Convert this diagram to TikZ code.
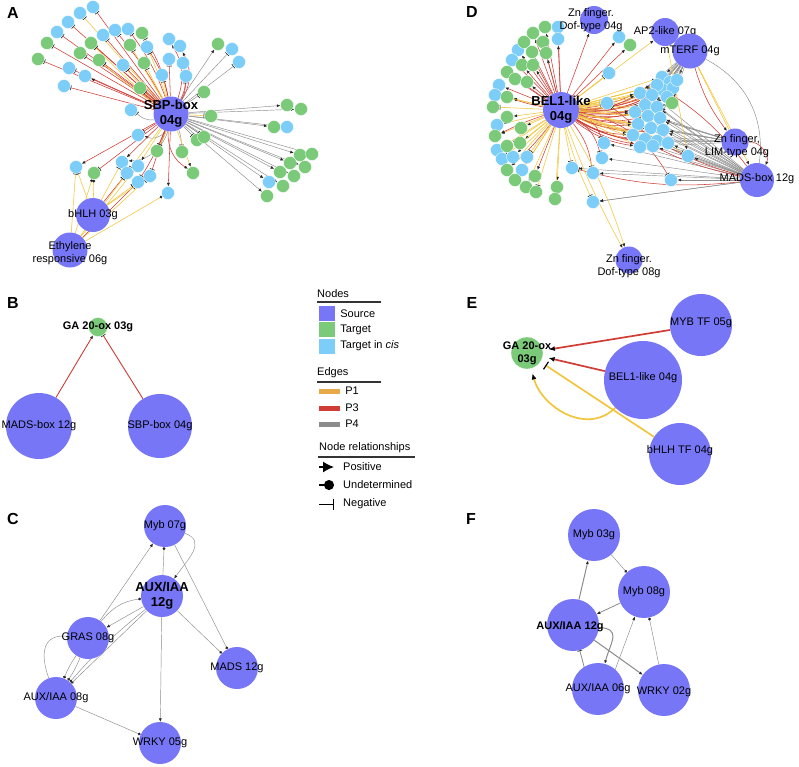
\documentclass[tikz,border=0pt]{standalone}
\usepackage{fontspec}
\setmainfont{Liberation Sans}
\usepackage{xcolor}
\usepackage{tikz}
\usetikzlibrary{arrows.meta,positioning}
\definecolor{srcblue}{RGB}{118,118,246}
\definecolor{tgtgreen}{RGB}{122,202,122}
\definecolor{cisblue}{RGB}{124,206,248}
\definecolor{pone}{RGB}{242,198,60}
\definecolor{ponekey}{RGB}{232,170,72}
\definecolor{pthree}{RGB}{208,60,54}
\definecolor{pfour}{RGB}{140,140,140}
\pgfdeclarelayer{paper}
\pgfdeclarelayer{edges}
\pgfsetlayers{paper,edges,main}
\tikzset{
  src/.style={circle,fill=srcblue,inner sep=0pt,minimum size=#1},
  tgt/.style={circle,fill=tgtgreen,draw=white,line width=.3pt,inner sep=0pt,minimum size=13pt},
  cis/.style={circle,fill=cisblue,draw=white,line width=.3pt,inner sep=0pt,minimum size=13pt},
  lbl/.style={inner sep=0pt,align=center,font=\fontsize{11}{12.5}\selectfont},
  hub/.style={inner sep=0pt,align=center,font=\bfseries\fontsize{13}{15}\selectfont},
  hubsm/.style={inner sep=0pt,align=center,font=\bfseries\fontsize{11}{13}\selectfont},
  panel/.style={inner sep=0pt,font=\bfseries\fontsize{16}{16}\selectfont},
  keytxt/.style={inner sep=0pt,anchor=west,font=\fontsize{11}{12}\selectfont},
  keyrule/.style={line width=1.3pt,draw=black!80},
  swatch/.style={inner sep=0pt,minimum width=16pt,minimum height=15pt},
  e1/.style={draw=pone,line width=.55pt},
  e3/.style={draw=pthree,line width=.55pt},
  e4/.style={draw=pfour,line width=.45pt},
  tpos/.style={-{Latex[length=3.5pt,width=3pt,color=black!85]}},
  tund/.style={-{Circle[length=2.8pt,color=black!85]}},
  tneg/.style={-{Bar[width=5pt,line width=.7pt,color=black!85]}},
  tposL/.style={-{Latex[length=6pt,width=5pt,color=black]}},
  tnegL/.style={-{Bar[width=9pt,line width=1.2pt,color=black]}},
}
\begin{document}
\begin{tikzpicture}[x=1pt,y=-1pt]
\begin{pgfonlayer}{paper}
\useasboundingbox[fill=white] (0,0) rectangle (799,766);
\end{pgfonlayer}

% ---- panel A ----
\node[panel] (labA) at (13,13) {A};
\foreach \x/\y [count=\i] in {93/7,80/13,68/22,57/32,103/35,115/30,128/29,147/47,169/39,180/46,169/59,183/63,162/75,186/76,232/49,239/62,123/65,69/68,85/76,64/86,131/110,138/135,76/167,122/162,138/166,150/176,127/173,138/182,168/193,287/127,269/182}
  \node[cis] (ac\i) at (\x,\y) {};
\foreach \x/\y [count=\i] in {142/33,130/45,91/43,47/43,38/59,80/53,99/60,144/63,140/88,204/92,218/44,211/116,287/105,301/109,274/127,157/151,182/152,197/140,204/137,193/173,94/173,300/155,312/154,290/163,305/167,280/172,294/176,283/186,267/196}
  \node[tgt] (ag\i) at (\x,\y) {};
\node[src=35pt,label={[hub]center:SBP-box\\04g}] (sbpA) at (171,114) {};
\node[src=34pt,label={[lbl]center:bHLH 03g}] (bhlhA) at (93,215) {};
\node[src=35pt,label={[lbl,yshift=-3pt]center:Ethylene\\responsive 06g}] (ethA) at (70,250) {};
\begin{pgfonlayer}{edges}
\foreach \i/\e/\t/\b in {1/e3/tneg/0,2/e1/tneg/0,3/e3/tneg/0,4/e3/tneg/0,5/e3/tneg/0,6/e3/tneg/-5,7/e3/tneg/-8,8/e3/tneg/-10,8/e1/tneg/-3,9/e3/tpos/-25,10/e3/tpos/-30,11/e3/tneg/0,12/e3/tpos/-20,13/e1/tneg/0,14/e3/tneg/-15,15/e4/tneg/0,16/e4/tneg/0,17/e3/tneg/0,17/e1/tneg/4,18/e3/tneg/0,19/e3/tpos/0,20/e3/tneg/0,21/e4/tneg/25,22/e3/tneg/0,22/e4/tpos/40,23/e3/tpos/0,24/e3/tpos/0,24/e4/tpos/35,25/e1/tpos/0,26/e3/tneg/0,27/e1/tneg/0,28/e3/tneg/5,29/e3/tpos/0,30/e4/tpos/0,31/e4/tpos/0}
  \draw[\e,\t] (sbpA) to[bend left=\b] (ac\i);
\foreach \i/\e/\t/\b in {1/e3/tneg/-10,2/e1/tneg/0,3/e3/tneg/0,3/e1/tneg/4,4/e3/tneg/0,5/e3/tneg/0,6/e3/tneg/0,7/e3/tneg/0,7/e1/tneg/4,8/e1/tneg/0,9/e3/tneg/0,10/e4/tneg/0,11/e4/tpos/0,12/e1/tneg/0,13/e4/tpos/0,14/e4/tpos/0,15/e4/tpos/0,16/e3/tneg/0,16/e1/tneg/5,17/e4/tneg/10,18/e4/tneg/0,19/e4/tneg/0,20/e1/tpos/0,20/e3/tpos/-30,21/e3/tneg/0,22/e4/tpos/0,23/e4/tpos/0,24/e4/tpos/0,25/e4/tpos/0,26/e4/tpos/0,27/e4/tpos/0,28/e4/tpos/0,29/e4/tpos/0}
  \draw[\e,\t] (sbpA) to[bend left=\b] (ag\i);
\foreach \s/\n/\e/\t in {bhlhA/ac23/e1/tneg,ethA/ac23/e1/tneg,bhlhA/ag21/e1/tund,ethA/ag21/e1/tund,bhlhA/ac24/e1/tneg,bhlhA/ac27/e3/tneg,ethA/ac27/e1/tneg,bhlhA/ac28/e1/tneg,ethA/ac28/e3/tneg,ethA/ac25/e1/tpos,bhlhA/ac26/e1/tneg,ethA/ac26/e1/tneg,ethA/ac29/e1/tund}
  \draw[\e,\t] (\s) -- (\n);
\end{pgfonlayer}

% ---- panel D ----
\node[panel] (labD) at (472,12) {D};
\foreach \x/\y [count=\i] in {558/27,558/39,518/50,512/60,499/85,495/95,497/125,497/150,502/159,513/157,527/157,522/170,619/37,609/73,607/103,604/143,602/158,572/168,593/173,593/202,671/180,688/156,662/77,670/82,663/90,673/88,657/85,667/97,677/80,640/93,652/95,645/105,657/107,635/112,648/116,660/118,638/124,651/128,663/130,633/135,645/139,657/141,640/147,653/146,668/143}
  \node[cis] (dc\i) at (\x,\y) {};
\foreach \x/\y [count=\i] in {545/27,533/33,524/42,543/42,532/52,546/53,522/65,533/65,507/72,515/79,527/82,507/97,493/107,507/117,521/128,495/136,507/146,520/143,507/170,515/180,526/187,536/192,535/176,557/187,555/199,630/45,672/103}
  \node[tgt] (dg\i) at (\x,\y) {};
\node[src=36pt,label={[hub]center:BEL1-like\\04g}] (belD) at (561,110) {};
\node[src=28pt,label={[lbl,xshift=-3pt]center:Zn finger.\\Dof-type 04g}] (dof4D) at (594,20) {};
\node[src=28pt,label={[lbl]center:AP2-like 07g}] (ap2D) at (665,32) {};
\node[src=35pt,label={[lbl]center:mTERF 04g}] (mtD) at (690,51) {};
\node[src=27pt,label={[lbl,xshift=2pt,yshift=-4pt]center:Zn finger,\\LIM-type 04g}] (limD) at (735,142) {};
\node[src=34pt,label={[lbl,yshift=1pt]center:MADS-box 12g}] (madsD) at (757,180) {};
\node[src=27pt,label={[lbl,yshift=-6pt]center:Zn finger.\\Dof-type 08g}] (dof8D) at (629,260) {};
\begin{pgfonlayer}{edges}
\foreach \i/\e/\t/\b in {1/e3/tpos/0,2/e3/tpos/0,3/e3/tpos/0,4/e3/tpos/0,5/e3/tpos/0,6/e3/tpos/0,7/e3/tpos/0,8/e3/tpos/0,9/e3/tpos/0,10/e3/tpos/0,11/e3/tpos/0,12/e1/tpos/0,12/e3/tpos/4,13/e1/tneg/0,14/e1/tpos/0,15/e1/tpos/0,16/e1/tpos/0,16/e3/tpos/-4,17/e1/tpos/0,18/e1/tpos/0,19/e1/tpos/0,19/e3/tpos/5,20/e1/tpos/0,21/e1/tpos/0,22/e1/tneg/0,23/e3/tpos/0,24/e1/tpos/0,25/e1/tpos/0,26/e3/tpos/0,27/e3/tpos/-10}
  \draw[\e,\t] (belD) to[bend left=\b] (dg\i);
\foreach \i/\e/\t/\b in {1/e3/tpos/0,2/e3/tpos/0,3/e3/tpos/0,4/e3/tpos/0,5/e3/tpos/0,6/e1/tpos/0,7/e1/tpos/0,8/e1/tpos/0,9/e1/tneg/0,10/e1/tpos/0,11/e1/tneg/0,12/e1/tpos/0,13/e3/tpos/0,14/e1/tneg/0,15/e1/tneg/0,16/e3/tneg/25,17/e3/tneg/20,18/e1/tneg/0,19/e3/tneg/15,20/e1/tneg/-5,21/e3/tneg/25,22/e1/tneg/10}
  \draw[\e,\t] (belD) to[bend left=\b] (dc\i);
\foreach \i in {23,...,45} {
  \draw[e3,tpos] (belD) to[bend right=14] (dc\i);
  \draw[e1,tpos] (belD) -- (dc\i);
}
\foreach \i in {23,...,37} \draw[e4,tpos] (mtD) -- (dc\i);
\foreach \i in {30,...,45} \draw[e4,tpos] (madsD) -- (dc\i);
\foreach \i in {16,...,22} \draw[e4,tpos] (madsD) -- (dc\i);
\foreach \i in {34,...,43} \draw[e4,tpos] (limD) -- (dc\i);
\draw[e3,tneg] (madsD) to[bend left=12] (dc15);
\draw[e3,tneg] (madsD) to[bend left=10] (dc18);
\draw[e3,tpos] (madsD) to[bend left=8] (dc40);
\draw[e3,tpos] (madsD) to[bend right=10] (dc27);
\draw[e3,tpos] (limD) to[bend left=60] (madsD);
\draw[e4] (mtD) to[bend left=35] (madsD);
\draw[e1,tpos] (mtD) -- (madsD);
\draw[e1] (mtD) -- (limD);
\draw[e3,tpos] (mtD) to[bend right=10] (limD);
\draw[e4,tpos] (mtD) -- (dg27);
\draw[e1,tpos] (ap2D) -- (dc22);
\draw[e3,tpos] (belD) -- (dof4D);
\draw[e1,tpos] (belD) -- (ap2D);
\draw[e1,tpos] (belD) to[bend left=6] (dof8D);
\draw[e1,tpos] (belD) to[bend right=4] (dof8D);
\draw[e4,tpos] (madsD) -- (dc20);
\end{pgfonlayer}

% ---- panel B ----
\node[panel] (labB) at (13,303) {B};
\node[tgt,minimum size=19pt,label={[hubsm]center:GA 20-ox 03g}] (gaB) at (98,327) {};
\node[src=66pt,label={[lbl]center:MADS-box 12g}] (madsB) at (39,426) {};
\node[src=64pt,label={[lbl]center:SBP-box 04g}] (sbpB) at (160,426) {};
\begin{pgfonlayer}{edges}
\draw[e3,line width=.9pt,tpos] (madsB) -- (gaB);
\draw[e3,line width=.9pt,tneg] (sbpB) -- (gaB);
\end{pgfonlayer}

% ---- legend ----
\node[keytxt] (kNodes) at (317,294) {Nodes};
\draw[keyrule] (317,302) -- (381,302);
\node[swatch,fill=srcblue] (kSrc) at (327,313.5) {};
\node[swatch,fill=tgtgreen] (kTgt) at (327,329.5) {};
\node[swatch,fill=cisblue] (kCis) at (327,346) {};
\node[keytxt,right=5pt of kSrc] (kSrcT) {Source};
\node[keytxt,right=5pt of kTgt] (kTgtT) {Target};
\node[keytxt,right=5pt of kCis] (kCisT) {Target in \textit{cis}};
\node[keytxt] (kEdges) at (317,373) {Edges};
\draw[keyrule] (317,382) -- (381,382);
\node[swatch,minimum width=21pt,minimum height=5pt,fill=ponekey] (kP1) at (329.5,391) {};
\node[swatch,minimum width=21pt,minimum height=5pt,fill=pthree] (kP3) at (329.5,408) {};
\node[swatch,minimum width=21pt,minimum height=5pt,fill=pfour] (kP4) at (329.5,424) {};
\node[keytxt,right=5pt of kP1] (kP1T) {P1};
\node[keytxt,right=5pt of kP3] (kP3T) {P3};
\node[keytxt,right=5pt of kP4] (kP4T) {P4};
\node[keytxt] (kRel) at (319,448) {Node relationships};
\draw[keyrule] (318,457) -- (415,457);
\coordinate (kPosA) at (319,467);
\coordinate (kPosB) at (334,467);
\coordinate (kUndA) at (319,485);
\coordinate (kUndB) at (334,485);
\coordinate (kNegA) at (319,504);
\coordinate (kNegB) at (334,504);
\draw[line width=1.4pt,-{Latex[length=11pt,width=11pt]}] (kPosA) -- (kPosB);
\draw[line width=1.4pt,-{Circle[length=10pt]}] (kUndA) -- (kUndB);
\draw[line width=1pt,-{Bar[width=11pt]}] (kNegA) -- (kNegB);
\node[keytxt,right=9pt of kPosB] (kPosT) {Positive};
\node[keytxt,right=9pt of kUndB] (kUndT) {Undetermined};
\node[keytxt,right=9pt of kNegB] (kNegT) {Negative};

% ---- panel E ----
\node[panel] (labE) at (472,303) {E};
\node[tgt,minimum size=32pt,label={[hubsm]center:GA 20-ox\\03g}] (gaE) at (527,353) {};
\node[src=62pt,label={[lbl,yshift=2pt]center:MYB TF 05g}] (mybE) at (701,325) {};
\node[src=78pt,label={[lbl,yshift=2pt]center:BEL1-like 04g}] (belE) at (643,380) {};
\node[src=62pt,label={[lbl,yshift=3pt]center:bHLH TF 04g}] (bhlhE) at (680,454) {};
\begin{pgfonlayer}{edges}
\draw[e3,line width=1.7pt,tposL,shorten >=6pt] (mybE) -- (gaE);
\draw[e3,line width=1.7pt,tposL,shorten >=6pt] (belE) -- (gaE);
\draw[e1,line width=1.7pt,tnegL,shorten >=6pt] (bhlhE) -- (gaE);
\draw[e1,line width=1.7pt,tposL,shorten >=5pt] (belE) to[out=-135,in=-75,looseness=1.1] (gaE);
\end{pgfonlayer}

% ---- panel C ----
\node[panel] (labC) at (13,519) {C};
\node[src=42pt,label={[lbl]center:Myb 07g}] (mybC) at (165,526) {};
\node[src=42pt,label={[hub]center:AUX/IAA\\12g}] (auxC) at (162,596) {};
\node[src=42pt,label={[lbl]center:GRAS 08g}] (grasC) at (88,638) {};
\node[src=42pt,label={[lbl]center:MADS 12g}] (madsC) at (237,668) {};
\node[src=42pt,label={[lbl]center:AUX/IAA 08g}] (aux8C) at (56,698) {};
\node[src=42pt,label={[lbl]center:WRKY 05g}] (wrkyC) at (160,743) {};
\begin{pgfonlayer}{edges}
\draw[e4,tund] (auxC) -- (mybC);
\draw[e4,tpos] (mybC) to[out=-20,in=55,looseness=1.3] (auxC);
\draw[e4,tund] (mybC) -- (madsC);
\draw[e4,tund] (auxC) -- (madsC);
\draw[e4,tpos] (auxC) -- (wrkyC);
\draw[e4,tpos] (grasC) -- (mybC);
\draw[e4,tund] (grasC) to[bend left=22] (auxC);
\draw[e4,tpos] (auxC) -- (grasC);
\draw[e4,tund] (auxC) -- (aux8C);
\draw[e4,tund] (auxC) to[bend right=5] (aux8C);
\draw[e4,tund] (grasC) to[bend left=6] (aux8C);
\draw[e4,tund] (grasC) to[bend right=6] (aux8C);
\draw[e4] (grasC) to[out=175,in=110,looseness=1.4] (aux8C);
\draw[e4,tund] (aux8C) -- (wrkyC);
\end{pgfonlayer}

% ---- panel F ----
\node[panel] (labF) at (471,519) {F};
\node[src=52pt,label={[lbl]center:Myb 03g}] (myb3F) at (594,535) {};
\node[src=52pt,label={[lbl]center:Myb 08g}] (myb8F) at (644,592) {};
\node[src=52pt,label={[hubsm,xshift=-3pt,yshift=-2pt]center:AUX/IAA 12g}] (auxF) at (573,625) {};
\node[src=52pt,label={[lbl]center:AUX/IAA 06g}] (aux6F) at (598,689) {};
\node[src=52pt,label={[lbl,yshift=-2pt]center:WRKY 02g}] (wrkyF) at (664,690) {};
\begin{pgfonlayer}{edges}
\draw[e4,line width=1pt,tpos] (auxF) -- (myb3F);
\draw[e4,tund] (myb3F) -- (myb8F);
\draw[e4,line width=.8pt,tpos] (myb8F) -- (auxF);
\draw[e4,tpos] ([xshift=10pt]aux6F.center) -- (myb8F);
\draw[e4,tund] (wrkyF) -- (myb8F);
\draw[e4,line width=.8pt,tneg] ([xshift=-8pt]aux6F.center) -- (auxF);
\draw[e4,line width=1pt,tpos] (auxF) -- (wrkyF);
\draw[e4,line width=1pt,tpos] (auxF) to[out=-5,in=75,looseness=1.6] (aux6F);
\end{pgfonlayer}
\end{tikzpicture}
\end{document}
